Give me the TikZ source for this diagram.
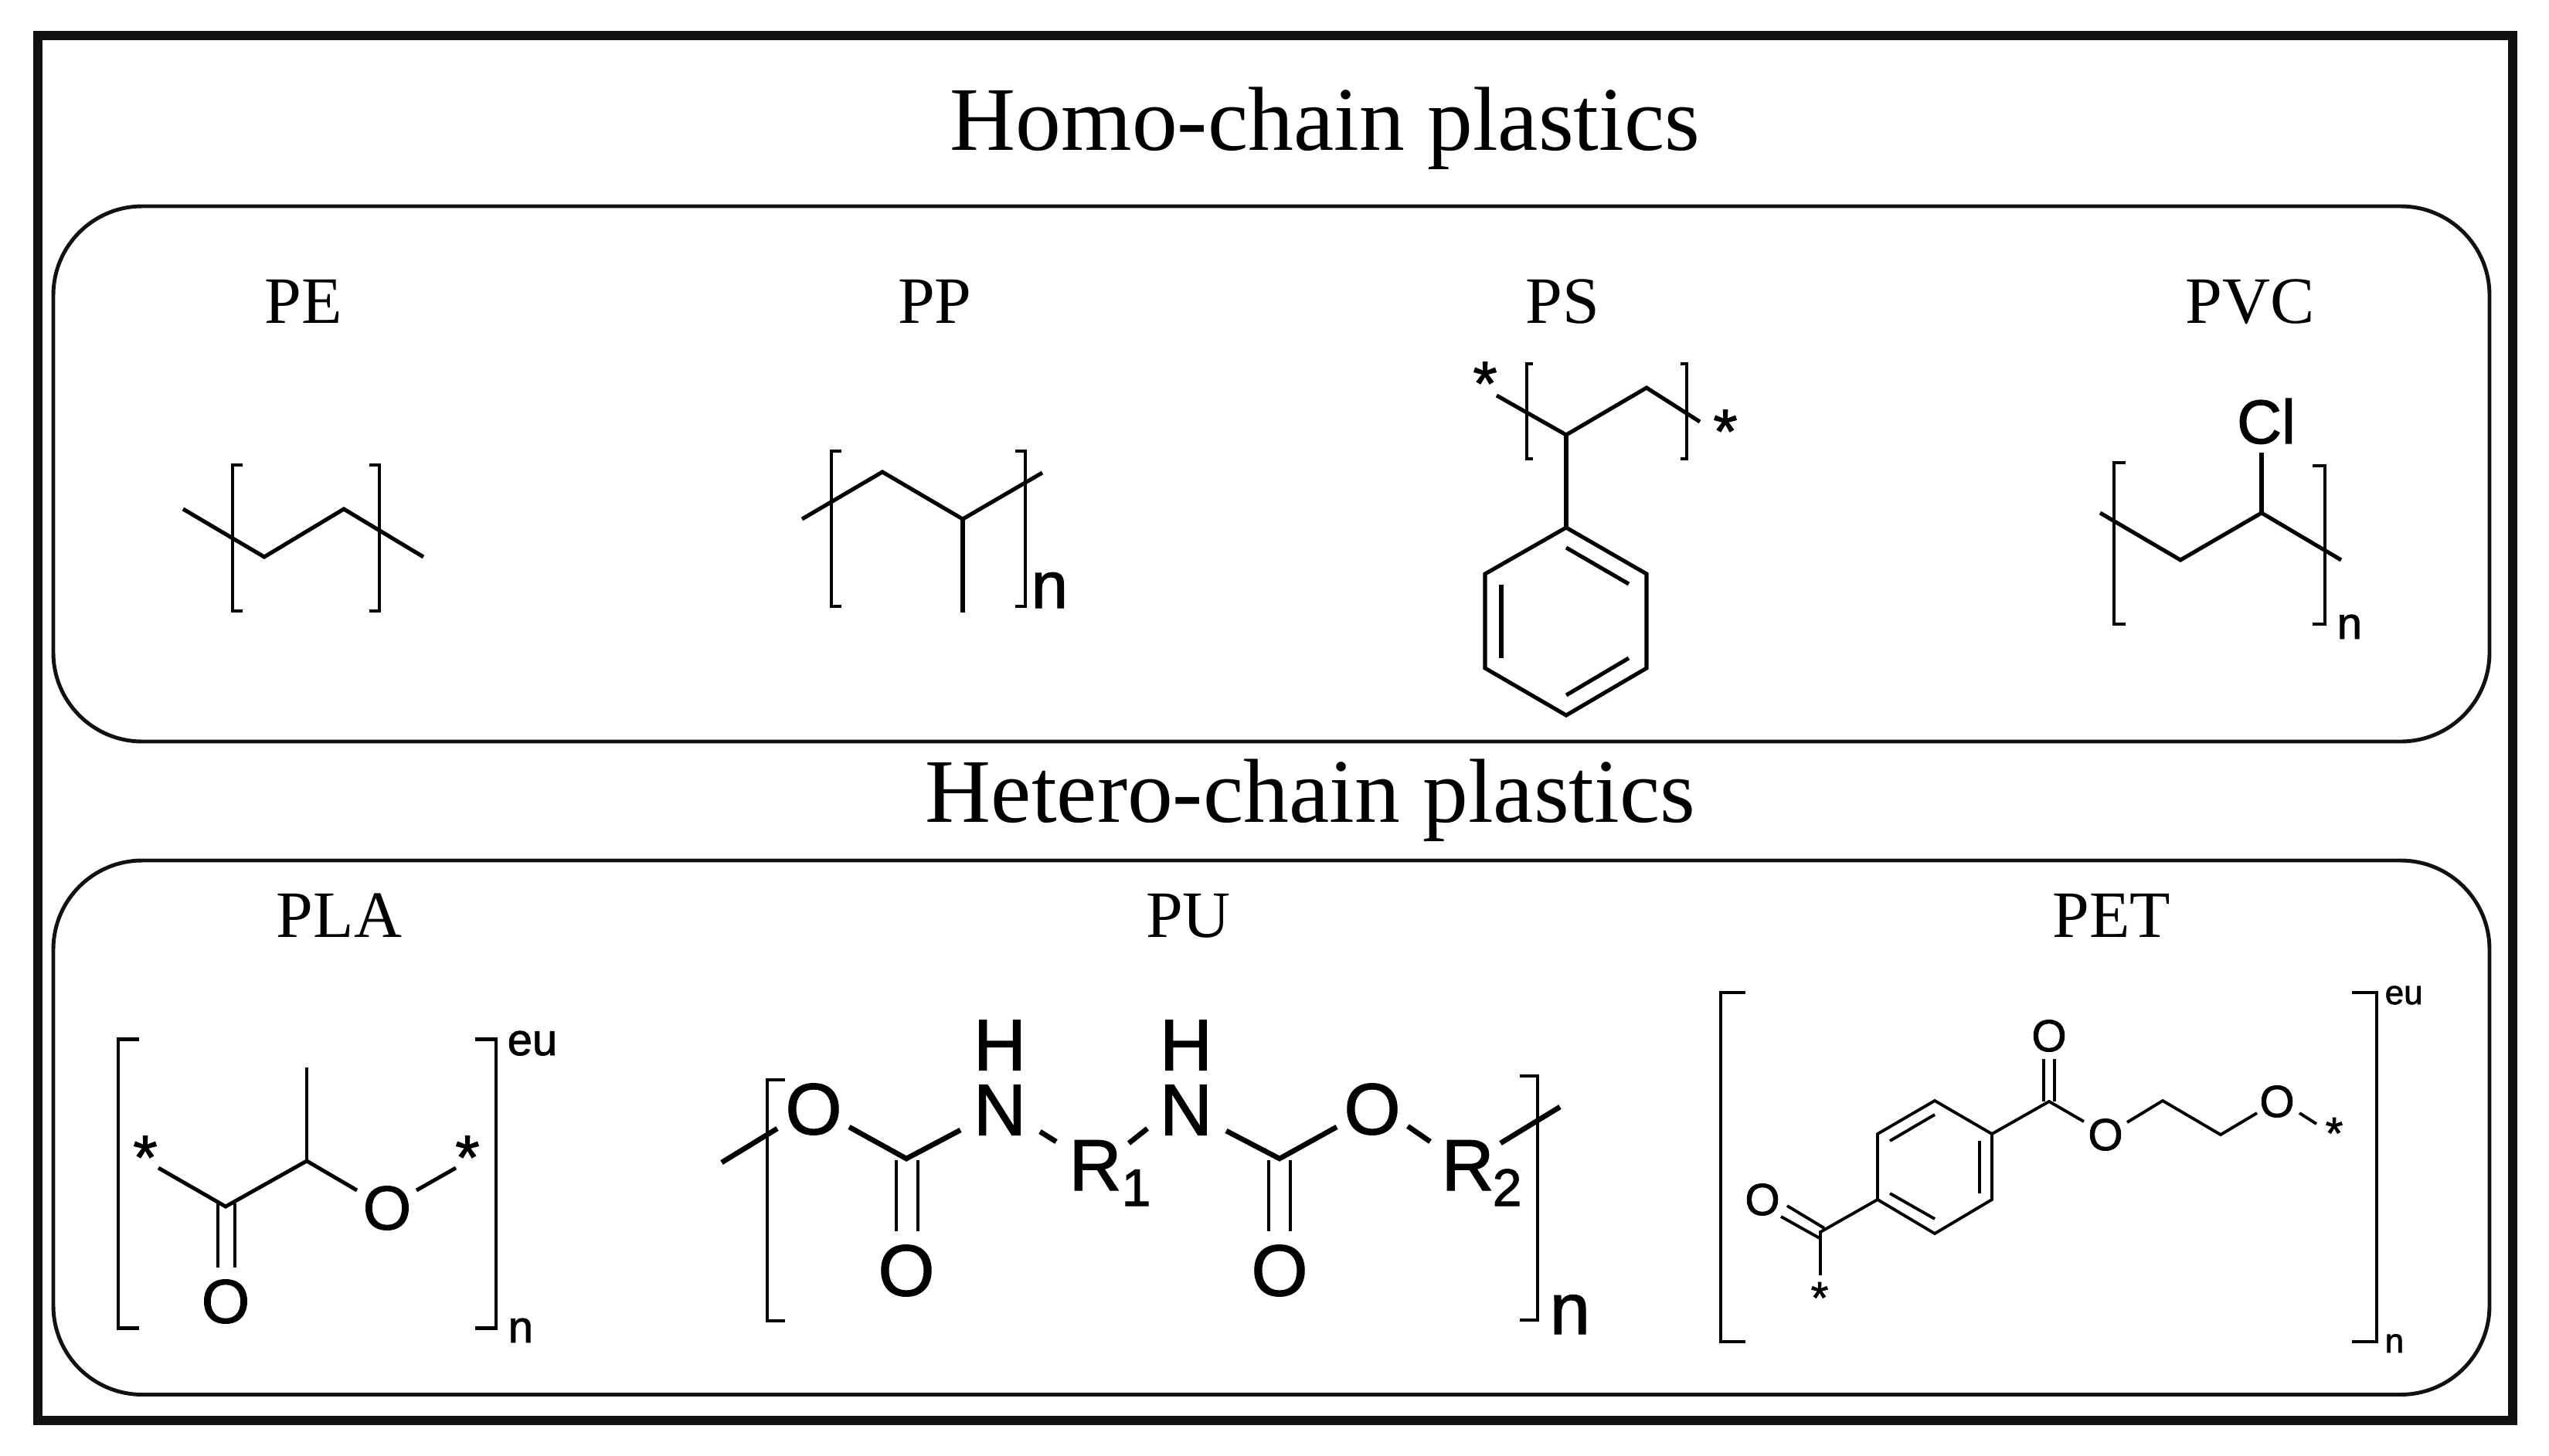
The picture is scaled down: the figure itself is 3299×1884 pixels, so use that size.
\documentclass[tikz,border=0pt]{standalone}
\usepackage{fontspec}
\setmainfont{Liberation Serif}
\newfontfamily\chemfont[FakeBold=1.5]{Liberation Sans}
\definecolor{framek}{HTML}{111111}
\tikzset{
  x=0.01cm,y=-0.01cm,
  frameline/.style={line width=3.4pt,framek},
  panel/.style={line width=1.4pt,framek,rounded corners=1.15cm},
  title/.style={inner sep=0pt,anchor=base,font=\fontsize{33.45pt}{40pt}\selectfont},
  polyname/.style={inner sep=0pt,anchor=base,font=\fontsize{24.4pt}{29pt}\selectfont},
  bondA/.style={line width=1.45pt,line join=miter},
  bondB/.style={line width=1.4pt,line join=miter},
  bondC/.style={line width=1.1pt,line join=miter},
  bondD/.style={line width=1.9pt,line join=miter},
  brack/.style={line width=1.0pt,line join=miter},
  brackthick/.style={line width=1.2pt,line join=miter},
  atomH/.style={inner sep=0pt,font=\chemfont\fontsize{26.7pt}{32pt}\selectfont},
  atomL/.style={inner sep=0pt,font=\chemfont\fontsize{22.8pt}{27pt}\selectfont},
  atomM/.style={inner sep=0pt,font=\chemfont\fontsize{24.2pt}{29pt}\selectfont},
  atomS/.style={inner sep=0pt,font=\chemfont\fontsize{16.5pt}{20pt}\selectfont},
  atomT/.style={inner sep=0pt,font=\chemfont\fontsize{12.5pt}{15pt}\selectfont},
  atomSub/.style={inner sep=0pt,font=\chemfont\fontsize{19.3pt}{23pt}\selectfont},
}
\begin{document}
\begin{tikzpicture}
\useasboundingbox (0,0) rectangle (3299,1884);
\fill[white] (0,0) rectangle (3299,1884);
% frames
\draw[frameline] (49,46) rectangle (3252,1838.5);
\draw[panel] (69,267) rectangle (3222,960);
\draw[panel] (69,1114) rectangle (3222,1805.5);
% titles
\node[title] (thomo) at (1715,194) {Homo-chain plastics};
\node[title] (thet) at (1696,1064) {Hetero-chain plastics};
\node[polyname] (lPE) at (393,418) {PE};
\node[polyname] (lPP) at (1210,418) {PP};
\node[polyname] (lPS) at (2022,418) {PS};
\node[polyname] (lPVC) at (2912,418) {PVC};
\node[polyname] (lPLA) at (439,1213) {PLA};
\node[polyname] (lPU) at (1538,1213) {PU};
\node[polyname] (lPET) at (2733,1213) {PET};
% PE
\coordinate (e1) at (237,659); \coordinate (e2) at (342,721);
\coordinate (e3) at (445,659); \coordinate (e4) at (548,721);
\draw[bondA] (e1) -- (e2) -- (e3) -- (e4);
\draw[brack] (314,602) -- (301,602) -- (301,791) -- (314,791);
\draw[brack] (478,602) -- (491,602) -- (491,791) -- (478,791);
% PP
\coordinate (p1) at (1038,672); \coordinate (p2) at (1142,611);
\coordinate (p3) at (1246,672); \coordinate (p4) at (1349,612);
\coordinate (p5) at (1246,793);
\draw[bondA] (p1) -- (p2) -- (p3) -- (p4);
\draw[bondA] (p3) -- (p5);
\draw[brack] (1089,584) -- (1076,584) -- (1076,785) -- (1089,785);
\draw[brack] (1314,584) -- (1327,584) -- (1327,785) -- (1314,785);
\node[atomM,anchor=base west] (nPP) at (1334,787) {n};
% PS
\coordinate (s1) at (1937,512); \coordinate (s2) at (2027,563);
\coordinate (s3) at (2131,502); \coordinate (s4) at (2200,546);
\coordinate (r1) at (2027,683); \coordinate (r2) at (2131,743);
\coordinate (r3) at (2131,865); \coordinate (r4) at (2027,926);
\coordinate (r5) at (1922,865); \coordinate (r6) at (1922,743);
\draw[bondA] (s1) -- (s2) -- (s3) -- (s4);
\draw[bondA] (s2) -- (r1);
\draw[bondA] (r1) -- (r2) -- (r3) -- (r4) -- (r5) -- (r6) -- cycle;
\draw[bondA] (2027,709) -- (2108,756);
\draw[bondA] (1943,757) -- (1943,852);
\draw[bondA] (2027,900) -- (2108,852);
\draw[brack] (1984,471) -- (1976,471) -- (1976,594) -- (1984,594);
\draw[brack] (2175,471) -- (2183,471) -- (2183,594) -- (2175,594);
\node[atomL,anchor=base] (sa) at (1922,524) {*};
\node[atomL,anchor=base] (sb) at (2233,586) {*};
% PVC
\coordinate (v1) at (2718,664); \coordinate (v2) at (2822,725);
\coordinate (v3) at (2927,664); \coordinate (v4) at (3030,725);
\coordinate (v5) at (2927,586);
\draw[bondA] (v1) -- (v2) -- (v3) -- (v4);
\draw[bondA] (v3) -- (v5);
\node[atomL,anchor=base] (cl) at (2933,574) {Cl};
\draw[brack] (2751,599) -- (2736,599) -- (2736,808) -- (2751,808);
\draw[brack] (2993,603) -- (3009,603) -- (3009,808) -- (2993,808);
\node[atomS,anchor=base west] (nPVC) at (3024,827) {n};
% PLA
\coordinate (l1) at (205,1512); \coordinate (l2) at (292,1562);
\coordinate (l3) at (397,1503); \coordinate (l4) at (462,1541);
\coordinate (l5) at (539,1541); \coordinate (l6) at (590,1512);
\coordinate (l7) at (397,1382);
\draw[bondB] (l1) -- (l2) -- (l3) -- (l4);
\draw[bondB] (l5) -- (l6);
\draw[bondB] (l3) -- (l7);
\draw[bondB] (282,1558) -- (282,1641);
\draw[bondB] (304,1558) -- (304,1641);
\node[atomL] (lO1) at (501,1564) {O};
\node[atomL] (lO2) at (292,1685) {O};
\node[atomL,anchor=base] (la) at (188,1526) {*};
\node[atomL,anchor=base] (lb) at (605,1526) {*};
\draw[brackthick] (180,1345.5) -- (153,1345.5) -- (153,1719.5) -- (180,1719.5);
\draw[brackthick] (615,1345.5) -- (642,1345.5) -- (642,1719.5) -- (615,1719.5);
\node[atomS,anchor=base west] (leu) at (656,1366) {eu};
\node[atomS,anchor=base west] (ln) at (657,1738) {n};
% PU
\coordinate (u1) at (934,1505); \coordinate (u2) at (1006,1461);
\coordinate (u3) at (1099,1459); \coordinate (u4) at (1173,1500);
\coordinate (u5) at (1243,1463); \coordinate (u6) at (1346,1465);
\coordinate (u7) at (1367,1478); \coordinate (u8) at (1461,1480);
\coordinate (u9) at (1485,1461); \coordinate (u10) at (1587,1464);
\coordinate (u11) at (1656,1500); \coordinate (u12) at (1730,1459);
\coordinate (u13) at (1822,1458); \coordinate (u14) at (1851,1478);
\coordinate (u15) at (1942,1480); \coordinate (u16) at (2019,1433);
\draw[bondD] (u1) -- (u2);
\draw[bondD] (u3) -- (u4) -- (u5);
\draw[bondD] (u6) -- (u7);
\draw[bondD] (u8) -- (u9);
\draw[bondD] (u10) -- (u11) -- (u12);
\draw[bondD] (u13) -- (u14);
\draw[bondD] (u15) -- (u16);
\draw[bondB] (1160,1502) -- (1160,1594);
\draw[bondB] (1188,1502) -- (1188,1594);
\draw[bondB] (1642,1502) -- (1642,1594);
\draw[bondB] (1670,1502) -- (1670,1594);
\node[atomH] (uO1) at (1053,1436) {O};
\node[atomH] (uN1) at (1294,1437) {N};
\node[atomH] (uH1) at (1294,1353) {H};
\node[atomH] (uN2) at (1535,1437) {N};
\node[atomH] (uH2) at (1535,1353) {H};
\node[atomH] (uO2) at (1776,1436) {O};
\node[atomH] (uO3) at (1173,1645) {O};
\node[atomH] (uO4) at (1656,1645) {O};
\node[atomH,anchor=base west] (uR1) at (1383,1541) {R};
\node[atomSub,anchor=base west] (uS1) at (1451,1561) {1};
\node[atomH,anchor=base west] (uR2) at (1865,1541) {R};
\node[atomSub,anchor=base west] (uS2) at (1931,1561) {2};
\draw[brackthick] (1016,1398) -- (993,1398) -- (993,1710) -- (1016,1710);
\draw[brackthick] (1967,1393) -- (1990,1393) -- (1990,1709) -- (1967,1709);
\node[atomH,anchor=base west] (un) at (2005,1727) {n};
% PET
\coordinate (t1) at (2504,1425); \coordinate (t2) at (2578,1468);
\coordinate (t3) at (2578,1553); \coordinate (t4) at (2504,1597);
\coordinate (t5) at (2430,1553); \coordinate (t6) at (2430,1468);
\coordinate (t7) at (2652,1426); \coordinate (t8) at (2697,1452);
\coordinate (t9) at (2753,1453); \coordinate (t10) at (2799,1425);
\coordinate (t11) at (2874,1469); \coordinate (t12) at (2921,1441);
\coordinate (t13) at (2976,1441); \coordinate (t14) at (2998,1455);
\coordinate (t15) at (2356,1595); \coordinate (t16) at (2356,1651);
\draw[bondC] (t1) -- (t2) -- (t3) -- (t4) -- (t5) -- (t6) -- cycle;
\draw[bondC] (2446,1477) -- (2504,1443);
\draw[bondC] (2562,1477) -- (2562,1545);
\draw[bondC] (2446,1545) -- (2504,1578);
\draw[bondC] (t2) -- (t7) -- (t8);
\draw[bondC] (t9) -- (t10) -- (t11) -- (t12);
\draw[bondC] (t13) -- (t14);
\draw[bondC] (t5) -- (t15) -- (t16);
\draw[bondC] (2645,1426) -- (2645,1371);
\draw[bondC] (2659,1426) -- (2659,1371);
\draw[bondC] (2313,1561) -- (2361,1590);
\draw[bondC] (2305,1575) -- (2355,1603);
\node[atomS] (tO1) at (2652,1341) {O};
\node[atomS] (tO2) at (2725,1469) {O};
\node[atomS] (tO3) at (2947,1426) {O};
\node[atomS] (tO4) at (2281,1553) {O};
\node[atomS,anchor=base] (ta) at (3021,1487) {*};
\node[atomS,anchor=base] (tb) at (2355,1700) {*};
\draw[brackthick] (2259,1285) -- (2227,1285) -- (2227,1737) -- (2259,1737);
\draw[brackthick] (3044,1285) -- (3076,1285) -- (3076,1737) -- (3044,1737);
\node[atomT,anchor=base west] (teu) at (3086,1300) {eu};
\node[atomT,anchor=base west] (tn) at (3086,1751) {n};
\end{tikzpicture}
\end{document}
